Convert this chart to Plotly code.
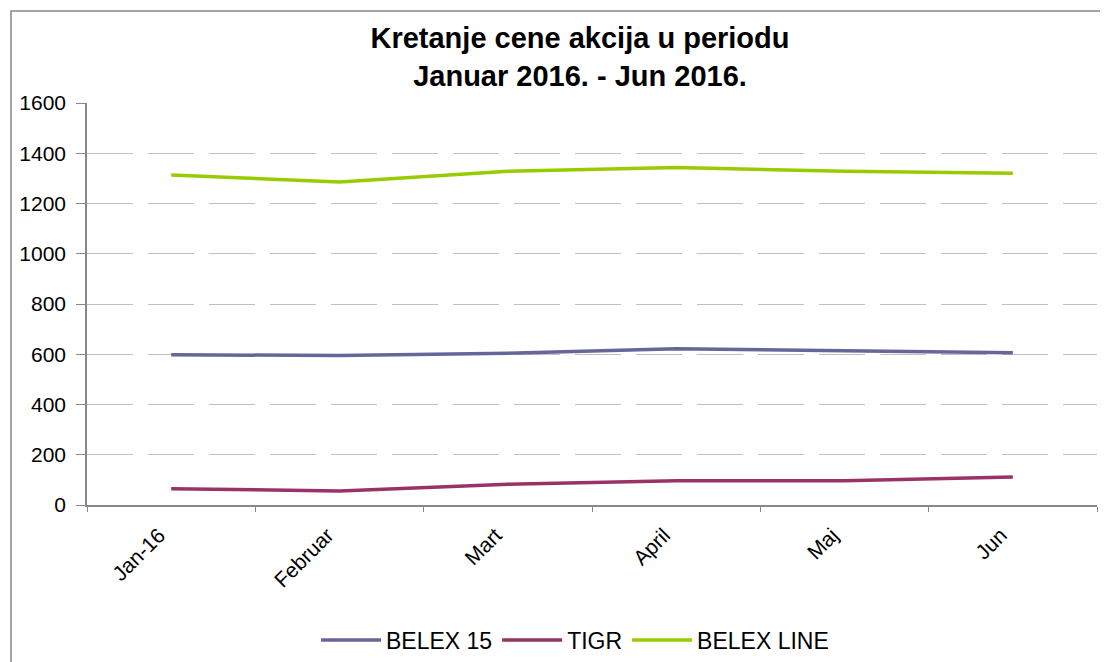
import plotly.graph_objects as go

categories = ["Jan-16", "Februar", "Mart", "April", "Maj", "Jun"]
belex15 = [598, 595, 604, 622, 614, 606]
tigr = [65, 56, 83, 97, 97, 111]
belex_line = [1313, 1286, 1328, 1343, 1328, 1320]

series_names = ["BELEX 15", "TIGR", "BELEX LINE"]
series_colors = ["#666699", "#993366", "#99CC00"]
series_values = [belex15, tigr, belex_line]

fig = go.Figure()
for name, color, vals in zip(series_names, series_colors, series_values):
    fig.add_trace(go.Scatter(
        x=categories, y=vals, mode="lines", name=name,
        line=dict(color=color, width=3.5),
    ))

OFF = 8  # page body margin
W, H = 1108 - OFF, 662 - OFF
L, R, T, B = 87 - OFF, 11, 103 - OFF, 157
pw, ph = W - L - R, H - T - B

fig.update_layout(
    width=W, height=H,
    margin=dict(l=L, r=R, t=T, b=B, autoexpand=False),
    paper_bgcolor="white", plot_bgcolor="white",
    font=dict(family="Arial, Liberation Sans, sans-serif", color="black"),
    title=dict(
        text="<b>Kretanje cene akcija u periodu<br>Januar 2016. - Jun 2016.</b>",
        x=(580 - OFF) / W, xanchor="center", y=1 - (48 - OFF) / H, yanchor="top",
        font=dict(size=29, family="Arial, Liberation Sans, sans-serif"),
    ),
    showlegend=True,
    legend=dict(
        orientation="h", x=(575 - L - OFF) / pw, xanchor="center",
        y=-(640 - OFF - (T + ph)) / ph, yanchor="middle",
        font=dict(size=23), traceorder="normal", itemwidth=60,
        bgcolor="rgba(0,0,0,0)",
    ),
    xaxis=dict(
        type="category", range=[-0.5, 5.5], automargin=False,
        showline=True, linecolor="#888888", linewidth=1.5,
        ticks="outside", ticklen=5, tickcolor="#888888",
        tickson="boundaries", showgrid=False,
        tickangle=-45, tickfont=dict(size=21),
        ticklabelstandoff=8, ticklabelshift=-12,
    ),
    yaxis=dict(
        range=[0, 1600], dtick=200, automargin=False,
        showline=True, linecolor="#888888", linewidth=1.5,
        ticks="outside", ticklen=9, tickcolor="#888888",
        showgrid=True, gridcolor="#C0C0C0", gridwidth=1,
        griddash="46px,15px", zeroline=False,
        tickfont=dict(size=21), ticklabelstandoff=6,
    ),
    shapes=[dict(
        type="rect", xref="paper", yref="paper",
        x0=(11 - OFF - L) / pw, x1=(W + 20 - L) / pw,
        y0=-(H + 20 - T - ph) / ph, y1=1 + (T - (11 - OFF)) / ph,
        line=dict(color="#888888", width=1.5), fillcolor="rgba(0,0,0,0)",
        layer="below",
    )],
)

fig.write_html("out.html")
